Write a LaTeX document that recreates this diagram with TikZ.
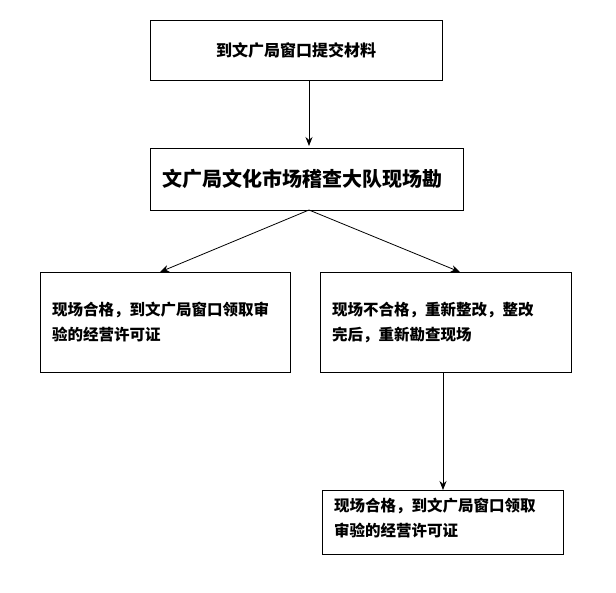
\documentclass[tikz,border=0pt]{standalone}
\usepackage{fontspec}
\newfontfamily\cjk{Noto Sans CJK SC}
\usetikzlibrary{arrows.meta}
\begin{document}
\begin{tikzpicture}[x=1pt,y=-1pt,
 box/.style={draw,line width=0.8pt},
 txt/.style={font=\cjk\bfseries\fontsize{15.5}{25}\selectfont,align=left,anchor=north west,inner sep=0},
 arr/.style={-{Stealth[length=9pt,width=7pt]},line width=0.8pt}]
\useasboundingbox (0,0) rectangle (616,592);
\node[box,minimum width=292,minimum height=60] (b1) at (296,50) {};
\node[font=\cjk\bfseries\fontsize{16}{18}\selectfont] (t1) at (296,50) {到文广局窗口提交材料};
\node[box,minimum width=313,minimum height=62] (b2) at (306.5,179) {};
\node[font=\cjk\bfseries\fontsize{20}{22}\selectfont] (t2) at (302,179) {文广局文化市场稽查大队现场勘};
\node[box,minimum width=250,minimum height=100,anchor=north west] (b3) at (40,272) {};
\node[txt] (t3) at (52,302) {现场合格，到文广局窗口领取审\\验的经营许可证};
\node[box,minimum width=251,minimum height=100,anchor=north west] (b4) at (320,272) {};
\node[txt] (t4) at (332,302) {现场不合格，重新整改，整改\\完后，重新勘查现场};
\node[box,minimum width=241,minimum height=64,anchor=north west] (b5) at (322,490) {};
\node[txt] (t5) at (334,498) {现场合格，到文广局窗口领取\\审验的经营许可证};
\coordinate (a1) at (309,80);
\coordinate (a2) at (309,210);
\draw[arr] (a1) -- (309,146);
\draw[arr] (a2) -- (160,272);
\draw[arr] (a2) -- (460,272);
\draw[arr] (443,372) -- (443,490);
\end{tikzpicture}
\end{document}
